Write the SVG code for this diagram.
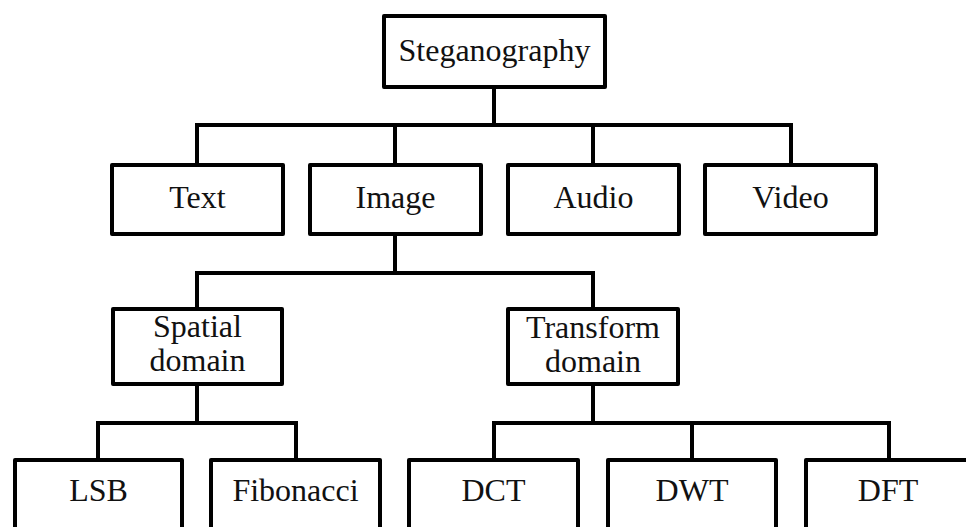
<svg xmlns="http://www.w3.org/2000/svg" width="966" height="527" viewBox="0 0 966 527">
<style>
.box{fill:#fff;stroke:#000;stroke-width:4;stroke-linejoin:round}
.lbl{font-family:"Liberation Serif","Times New Roman",serif;font-size:32px;fill:#111;text-anchor:middle}
.conn{fill:none;stroke:#000;stroke-width:4;stroke-linejoin:miter;stroke-linecap:square}
</style>
<rect width="966" height="527" fill="#fff"/>
<g id="connectors">
<path class="conn" d="M494 87V125M197 125H791M197 125V165M395 125V165M593 125V165M791 125V165"/>
<path class="conn" d="M395 234V273M197 273H593M197 273V309M593 273V309"/>
<path class="conn" d="M197 384V423M98 423H296M98 423V460M296 423V460"/>
<path class="conn" d="M593 384V423M494 423H889M494 423V460M692 423V460M889 423V460"/>
</g>
<g id="steganography"><rect class="box" x="384" y="16" width="221" height="71"/><text class="lbl" x="494.5" y="61">Steganography</text></g>
<g id="text"><rect class="box" x="112" y="165" width="171" height="69"/><text class="lbl" x="197.5" y="208">Text</text></g>
<g id="image"><rect class="box" x="310" y="165" width="171" height="69"/><text class="lbl" x="395.5" y="208">Image</text></g>
<g id="audio"><rect class="box" x="508" y="165" width="171" height="69"/><text class="lbl" x="593.5" y="208">Audio</text></g>
<g id="video"><rect class="box" x="705" y="165" width="171" height="69"/><text class="lbl" x="790.5" y="208">Video</text></g>
<g id="spatial"><rect class="box" x="113" y="309" width="169" height="75"/><text class="lbl" x="197.5" y="337">Spatial</text><text class="lbl" x="197.5" y="371">domain</text></g>
<g id="transform"><rect class="box" x="508" y="309" width="170" height="75"/><text class="lbl" x="593" y="338">Transform</text><text class="lbl" x="593" y="372">domain</text></g>
<g id="lsb"><rect class="box" x="15" y="460" width="167" height="80"/><text class="lbl" x="98.5" y="501">LSB</text></g>
<g id="fibonacci"><rect class="box" x="211" y="460" width="169" height="80"/><text class="lbl" x="295.5" y="501">Fibonacci</text></g>
<g id="dct"><rect class="box" x="409" y="460" width="169" height="80"/><text class="lbl" x="493.5" y="501">DCT</text></g>
<g id="dwt"><rect class="box" x="608" y="460" width="168" height="80"/><text class="lbl" x="692" y="501">DWT</text></g>
<g id="dft"><rect class="box" x="806" y="460" width="168" height="80"/><text class="lbl" x="888" y="501">DFT</text></g>
</svg>
